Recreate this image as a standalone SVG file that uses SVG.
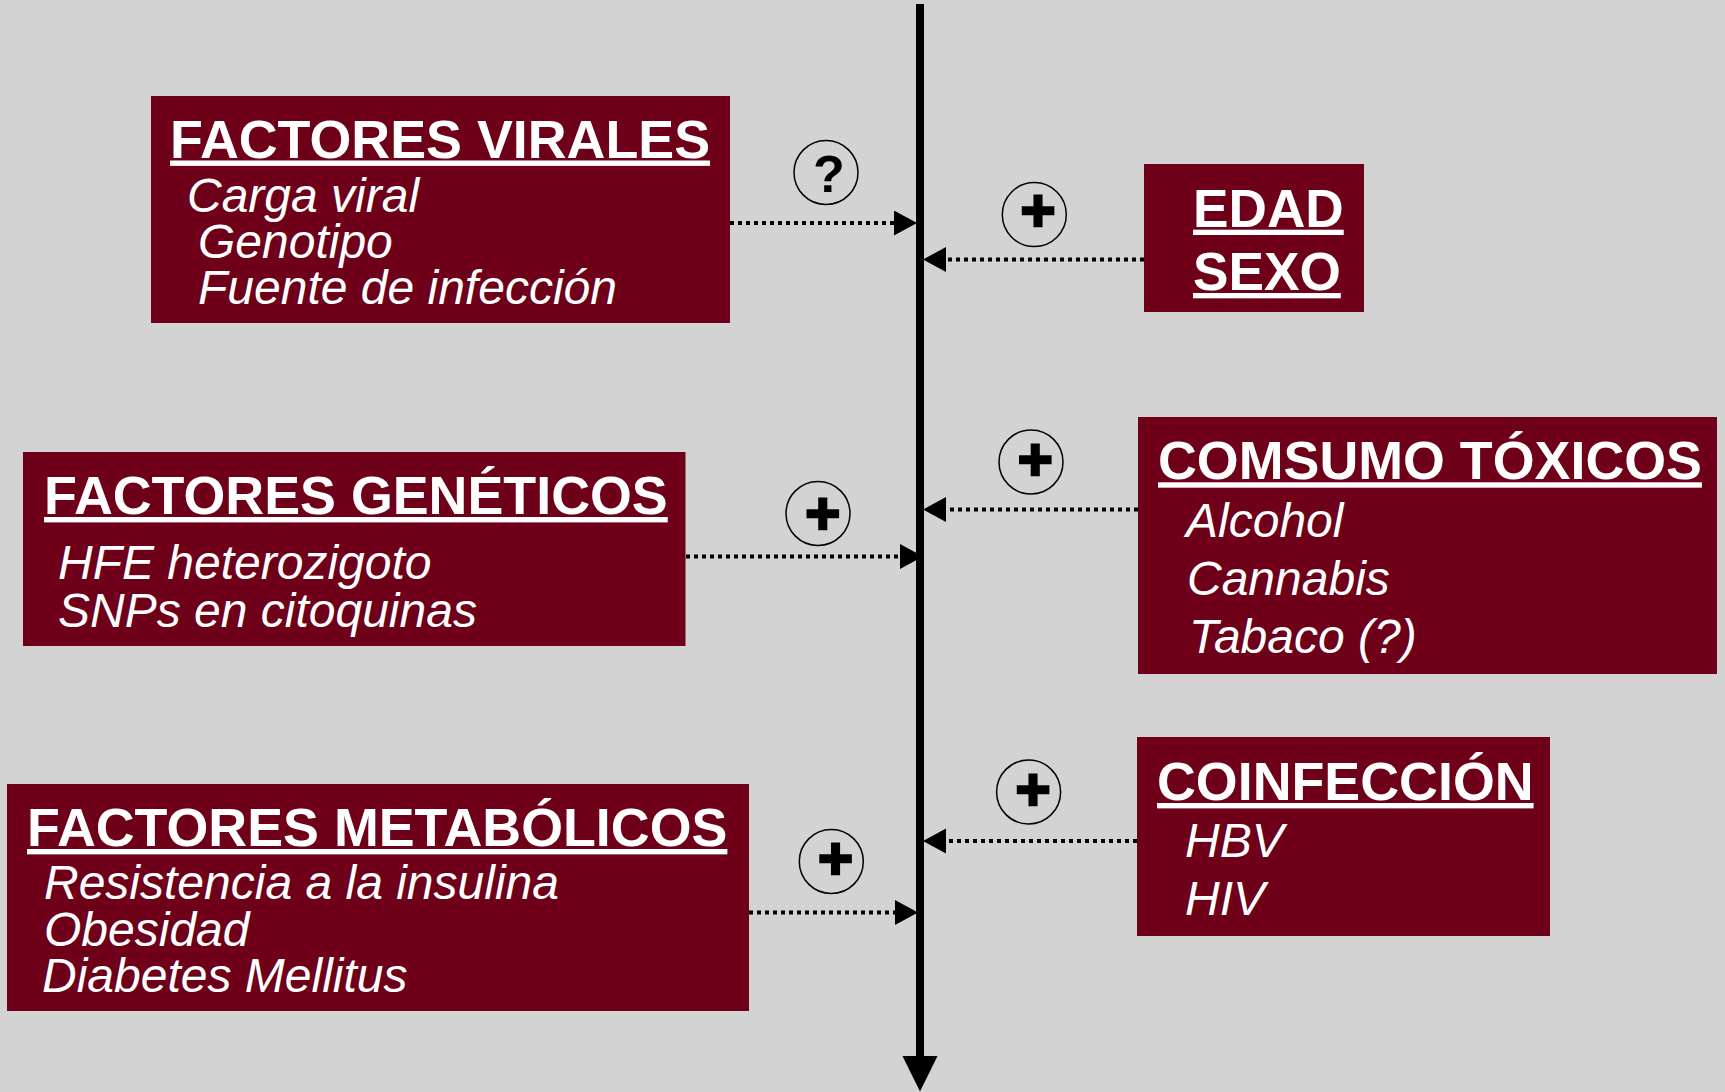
<svg xmlns="http://www.w3.org/2000/svg" width="1725" height="1092" viewBox="0 0 1725 1092">
<style>
.box{fill:#6E001A}
.t{font-family:"Liberation Sans",Arial,sans-serif;font-weight:bold;font-size:53.8px;fill:#fff;text-decoration:underline}
.t2{font-family:"Liberation Sans",Arial,sans-serif;font-weight:bold;font-size:53.2px;fill:#fff;text-decoration:underline}
.i{font-family:"Liberation Sans",Arial,sans-serif;font-style:italic;font-size:48px;fill:#fff}
.c{fill:none;stroke:#000;stroke-width:1.5}
.p{font-family:"Liberation Sans",Arial,sans-serif;font-weight:bold;font-size:60px;fill:#000;stroke:#000;stroke-width:2.5;text-anchor:middle}
.q{font-family:"Liberation Sans",Arial,sans-serif;font-weight:bold;font-size:52px;fill:#000;text-anchor:middle}
.d{fill:none;stroke:#000;stroke-width:4;stroke-dasharray:4 4}
</style>
<defs>
<marker id="ah" markerUnits="userSpaceOnUse" markerWidth="24" markerHeight="26" refX="0" refY="12.5" orient="auto">
<path d="M0,0 L23,12.5 L0,25 Z" fill="#000"/>
</marker>
</defs>
<rect x="0" y="0" width="1725" height="1092" fill="#D3D3D3"/>

<g id="connectors">
<line x1="920" y1="4" x2="920" y2="1058" stroke="#000" stroke-width="8"/>
<polygon points="902.5,1056 937.5,1056 920,1091.5" fill="#000"/>
<line class="d" x1="730" y1="223" x2="894" y2="223" marker-end="url(#ah)"/>
<line class="d" x1="686" y1="556.5" x2="900" y2="556.5" marker-end="url(#ah)"/>
<line class="d" x1="749" y1="912.5" x2="895" y2="912.5" marker-end="url(#ah)"/>
<line class="d" x1="1144" y1="259.5" x2="946" y2="259.5" marker-end="url(#ah)"/>
<line class="d" x1="1138" y1="509.5" x2="946" y2="509.5" marker-end="url(#ah)"/>
<line class="d" x1="1137" y1="841" x2="946" y2="841" marker-end="url(#ah)"/>
</g>

<g id="sign-viral">
<circle class="c" cx="826" cy="172.5" r="32"/>
<text class="q" x="829" y="191.5">?</text>
</g>
<g id="sign-edad">
<circle class="c" cx="1034.3" cy="214.6" r="32"/>
<text class="p" x="1038" y="231">+</text>
</g>
<g id="sign-toxicos">
<circle class="c" cx="1031" cy="462" r="32"/>
<text class="p" x="1035.3" y="479.5">+</text>
</g>
<g id="sign-geneticos">
<circle class="c" cx="818" cy="513.5" r="32"/>
<text class="p" x="822.7" y="534">+</text>
</g>
<g id="sign-metabolicos">
<circle class="c" cx="831.3" cy="861.5" r="32"/>
<text class="p" x="835.5" y="878.5">+</text>
</g>
<g id="sign-coinfeccion">
<circle class="c" cx="1028.6" cy="792" r="32"/>
<text class="p" x="1033" y="809.7">+</text>
</g>

<g id="factores-virales">
<rect class="box" x="151" y="96" width="579" height="227"/>
<text class="t" x="170" y="157.5">FACTORES VIRALES</text>
<text class="i" x="187" y="211.5">Carga viral</text>
<text class="i" x="198" y="257.5">Genotipo</text>
<text class="i" x="198" y="304">Fuente de infección</text>
</g>

<g id="edad-sexo">
<rect class="box" x="1144" y="164" width="220" height="148"/>
<text class="t2" x="1193" y="226.7">EDAD</text>
<text class="t2" x="1193" y="290">SEXO</text>
</g>

<g id="factores-geneticos">
<rect class="box" x="23" y="452" width="662.5" height="194"/>
<text class="t" x="44" y="514">FACTORES GENÉTICOS</text>
<text class="i" x="58" y="578.5">HFE heterozigoto</text>
<text class="i" x="58" y="627">SNPs en citoquinas</text>
</g>

<g id="consumo-toxicos">
<rect class="box" x="1138" y="417" width="579" height="257"/>
<text class="t" x="1158" y="479.3">COMSUMO TÓXICOS</text>
<text class="i" x="1186" y="536.5">Alcohol</text>
<text class="i" x="1187" y="595">Cannabis</text>
<text class="i" x="1189" y="653">Tabaco (?)</text>
</g>

<g id="factores-metabolicos">
<rect class="box" x="7" y="784" width="742" height="227"/>
<text class="t" x="27" y="846">FACTORES METABÓLICOS</text>
<text class="i" x="44" y="899">Resistencia a la insulina</text>
<text class="i" x="44" y="946">Obesidad</text>
<text class="i" x="42" y="992">Diabetes Mellitus</text>
</g>

<g id="coinfeccion">
<rect class="box" x="1137" y="737" width="413" height="199"/>
<text class="t" x="1157" y="800">COINFECCIÓN</text>
<text class="i" x="1185" y="857">HBV</text>
<text class="i" x="1185" y="914.5">HIV</text>
</g>
</svg>
